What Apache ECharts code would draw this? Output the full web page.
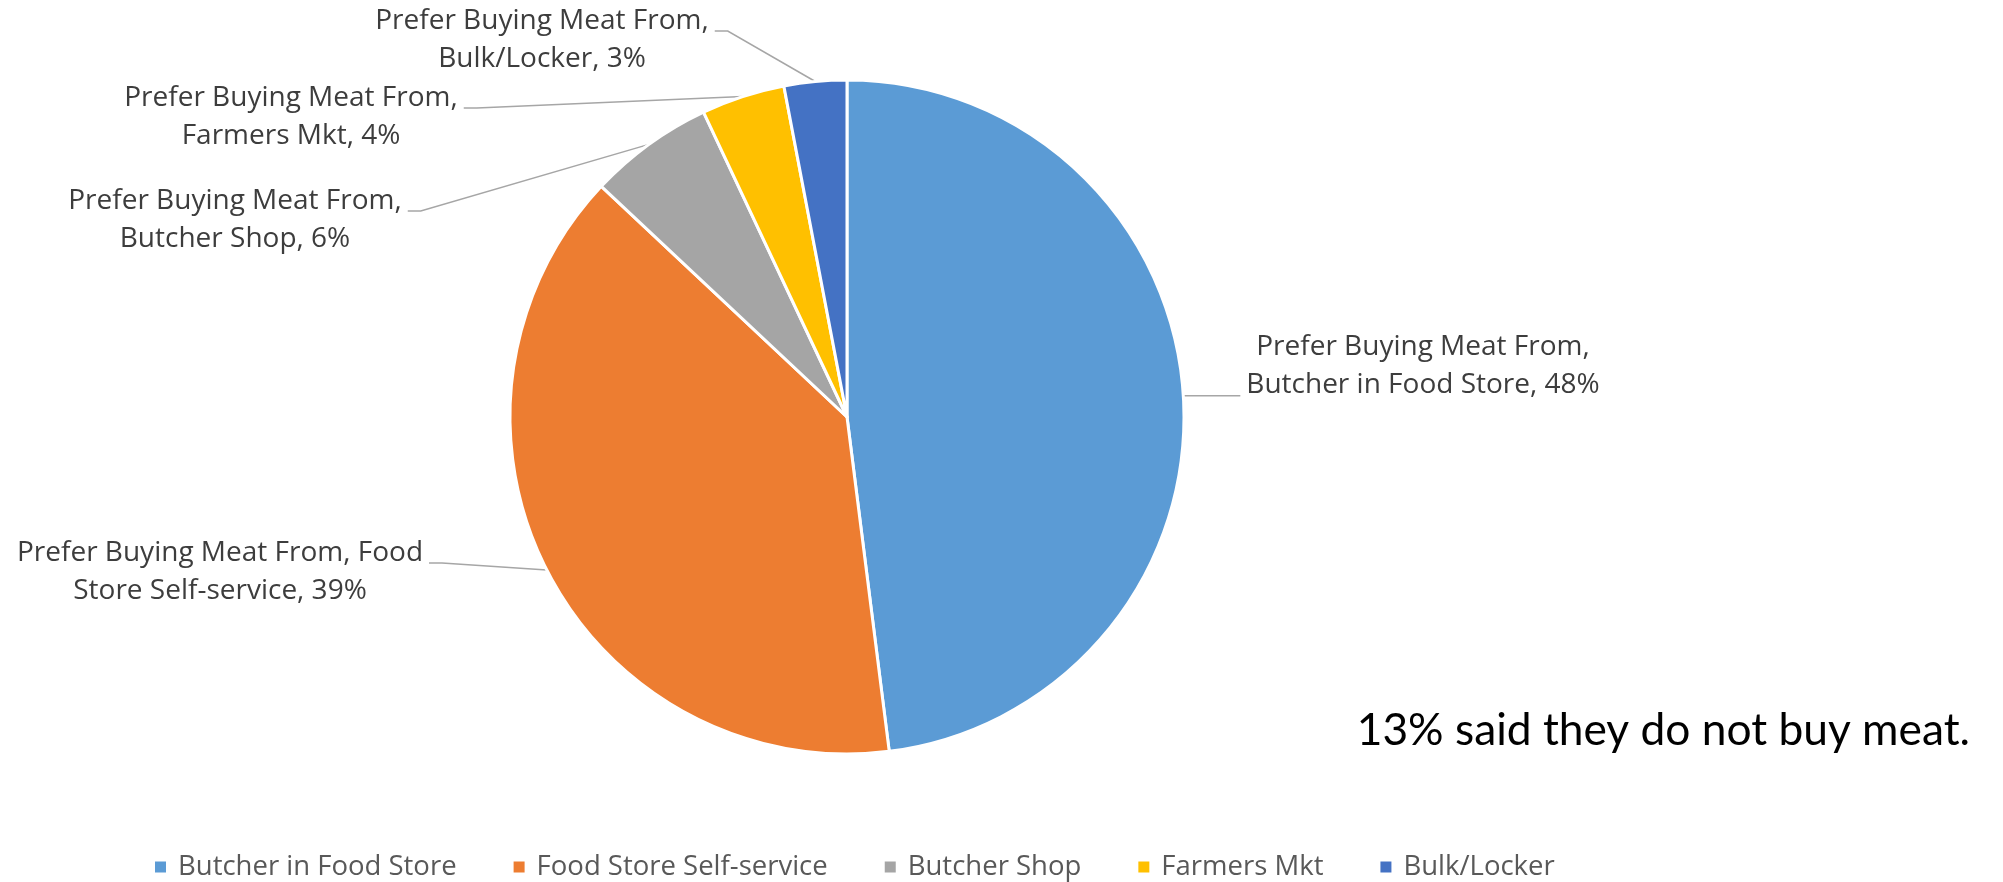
<!DOCTYPE html>
<html>
<head>
<meta charset="utf-8">
<title>Preferred place to buy meat</title>
<script src="https://cdn.jsdelivr.net/npm/echarts@6/dist/echarts.min.js"></script>
<style>
  html, body { margin: 0; padding: 0; background: #ffffff; }
  #chart { width: 2003px; height: 882px; }
</style>
</head>
<body>
<div id="chart"></div>
<script>
// ---- data ----
const labelPrefix = 'Prefer Buying Meat From';
const categories = ['Butcher in Food Store', 'Food Store Self-service', 'Butcher Shop', 'Farmers Mkt', 'Bulk/Locker'];
const shares = [48, 39, 6, 4, 3];
const noteText = '13% said they do not buy meat.';

// ---- styling / layout ----
const colors = ['#5B9BD5', '#ED7D31', '#A5A5A5', '#FFC000', '#4472C4'];
const LABEL_FONT_SIZE = 28;
const LABEL_FONT_FAMILY = "'Open Sans', sans-serif";
const LABEL_LINE_HEIGHT = 38;

// centre of each label block, the width the text wraps at, and which side of the pie it sits on
const labelBoxes = [
  { cx: 1423, cy: 366, wrap: 360, side: 'right' },
  { cx: 220,  cy: 572, wrap: 420, side: 'left' },
  { cx: 235,  cy: 220, wrap: 360, side: 'left' },
  { cx: 291,  cy: 117, wrap: 360, side: 'left' },
  { cx: 542,  cy: 40,  wrap: 360, side: 'left' }
];

// word-wrap a label to a pixel width, measured with the label font
const measureCtx = document.createElement('canvas').getContext('2d');
measureCtx.font = LABEL_FONT_SIZE + 'px ' + LABEL_FONT_FAMILY;
function wrapText(text, maxWidth) {
  const words = text.split(' ');
  const lines = [];
  let line = '';
  words.forEach(function (w) {
    const test = line ? line + ' ' + w : w;
    if (line && measureCtx.measureText(test).width > maxWidth) {
      lines.push(line);
      line = w;
    } else {
      line = test;
    }
  });
  if (line) lines.push(line);
  return lines.join('\n');
}

const chart = echarts.init(document.getElementById('chart'), null, { renderer: 'canvas' });

const option = {
  animation: false,
  backgroundColor: '#ffffff',
  color: colors,
  legend: {
    data: categories,
    orient: 'horizontal',
    left: 148,
    top: 846,
    icon: 'rect',
    itemWidth: 13,
    itemHeight: 13,
    itemGap: 55,
    textStyle: {
      fontFamily: LABEL_FONT_FAMILY,
      fontSize: 27.5,
      color: '#595959',
      lineHeight: 32,
      padding: [0, 0, 0, 6]
    }
  },
  graphic: [{
    type: 'text',
    x: 1970,
    y: 731,
    style: {
      text: noteText,
      font: "44.3px Lato, 'Open Sans', sans-serif",
      fill: '#000000',
      align: 'right',
      verticalAlign: 'middle'
    }
  }],
  series: [{
    type: 'pie',
    center: [847, 417],
    radius: 337,
    startAngle: 90,
    clockwise: true,
    avoidLabelOverlap: false,
    itemStyle: {
      borderColor: '#ffffff',
      borderWidth: 3
    },
    label: {
      show: true,
      position: 'outside',
      fontFamily: LABEL_FONT_FAMILY,
      fontSize: LABEL_FONT_SIZE,
      lineHeight: LABEL_LINE_HEIGHT,
      color: '#3d3d3d',
      align: 'center',
      formatter: function (p) {
        const full = labelPrefix + ', ' + p.name + ', ' + Math.round(p.percent) + '%';
        return wrapText(full, labelBoxes[p.dataIndex].wrap);
      }
    },
    labelLine: {
      show: true,
      smooth: false,
      length: 10,
      length2: 10,
      lineStyle: { color: '#A6A6A6', width: 1.5 }
    },
    labelLayout: function (p) {
      const b = labelBoxes[p.dataIndex];
      const w = p.labelRect.width;
      const anchor = p.labelLinePoints[0];
      let pts;
      if (b.side === 'right') {
        const endX = b.cx - w / 2 - 6;
        pts = [anchor, [(anchor[0] + endX) / 2, anchor[1]], [endX, anchor[1]]];
      } else {
        const endX = b.cx + w / 2 + 6;
        const y = b.cy - 9;
        pts = [anchor, [endX + 13, y], [endX, y]];
      }
      return {
        x: b.cx,
        y: b.cy,
        align: 'center',
        verticalAlign: 'middle',
        labelLinePoints: pts
      };
    },
    data: categories.map(function (name, i) {
      return { name: name, value: shares[i] };
    })
  }]
};

chart.setOption(option);
</script>
</body>
</html>
